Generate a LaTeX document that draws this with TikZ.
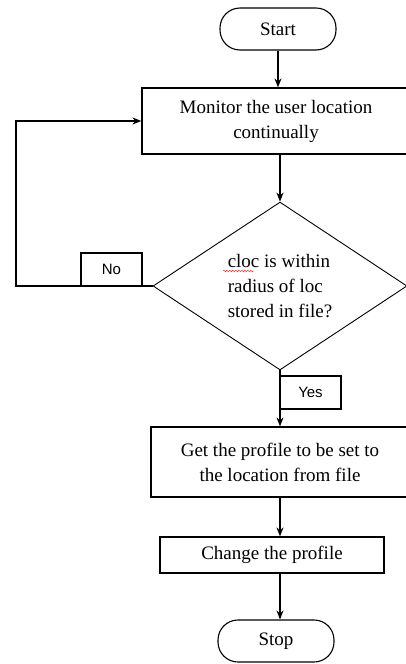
\documentclass[tikz,border=0pt]{standalone}
\usepackage{fontspec}
\setmainfont{Liberation Serif}
\newfontfamily\tagfont{Liberation Sans}
\usetikzlibrary{shapes.geometric,decorations.pathmorphing,arrows.meta}

\begin{document}
\begin{tikzpicture}[>={Stealth[length=9pt,width=7pt]},x=1pt,y=-1pt,
  every node/.style={font=\fontsize{19}{25}\selectfont},
  term/.style={draw,line width=1.1pt,rounded corners=20pt,minimum width=116pt,minimum height=42pt,inner sep=0pt},
  proc/.style={draw,line width=1.2pt,align=center,inner sep=0pt},
  dec/.style={draw,line width=0.9pt,diamond,minimum width=254pt,minimum height=162pt,align=left,inner sep=0pt},
  tag/.style={draw,line width=1.2pt,minimum width=61pt,minimum height=33pt,inner sep=0pt,font=\tagfont\fontsize{15}{18}\selectfont},
  flow/.style={line width=1.3pt,->}]
\clip (0,0) rectangle (406,664);

\node[term] (start) at (278,29) {Start};
\node[proc,minimum width=268pt,minimum height=66pt] (monitor) at (276,121) {Monitor the user location\\continually};
\node[dec] (check) at (280,286) {cloc is within\\radius of loc\\stored in file?};
\node[proc,minimum width=258pt,minimum height=70pt] (getprof) at (280,462) {Get the profile to be set to\\the location from file};
\node[proc,minimum width=224pt,minimum height=36pt] (change) at (272,555) {Change the profile};
\node[term] (stop) at (276,641) {Stop};

\node[tag] (no) at (111.5,269.5) {No};
\node[tag] (yes) at (310.5,392.5) {Yes};

\coordinate (back) at (16,286);

\draw[flow] (start.south) -- (start.south |- monitor.north);
\draw[flow] (check.north |- monitor.south) -- (check.north);
\draw[flow] (check.west) -- (back) |- (monitor.west);
\draw[flow] (check.south) -- (check.south |- getprof.north);
\draw[flow] (check.south |- getprof.south) -- (check.south |- change.north);
\draw[flow] (check.south |- change.south) -- (check.south |- stop.north);

\draw[red,decorate,decoration={snake,amplitude=0.7pt,segment length=3pt}] (223,271) -- (254,271);

\end{tikzpicture}
\end{document}
